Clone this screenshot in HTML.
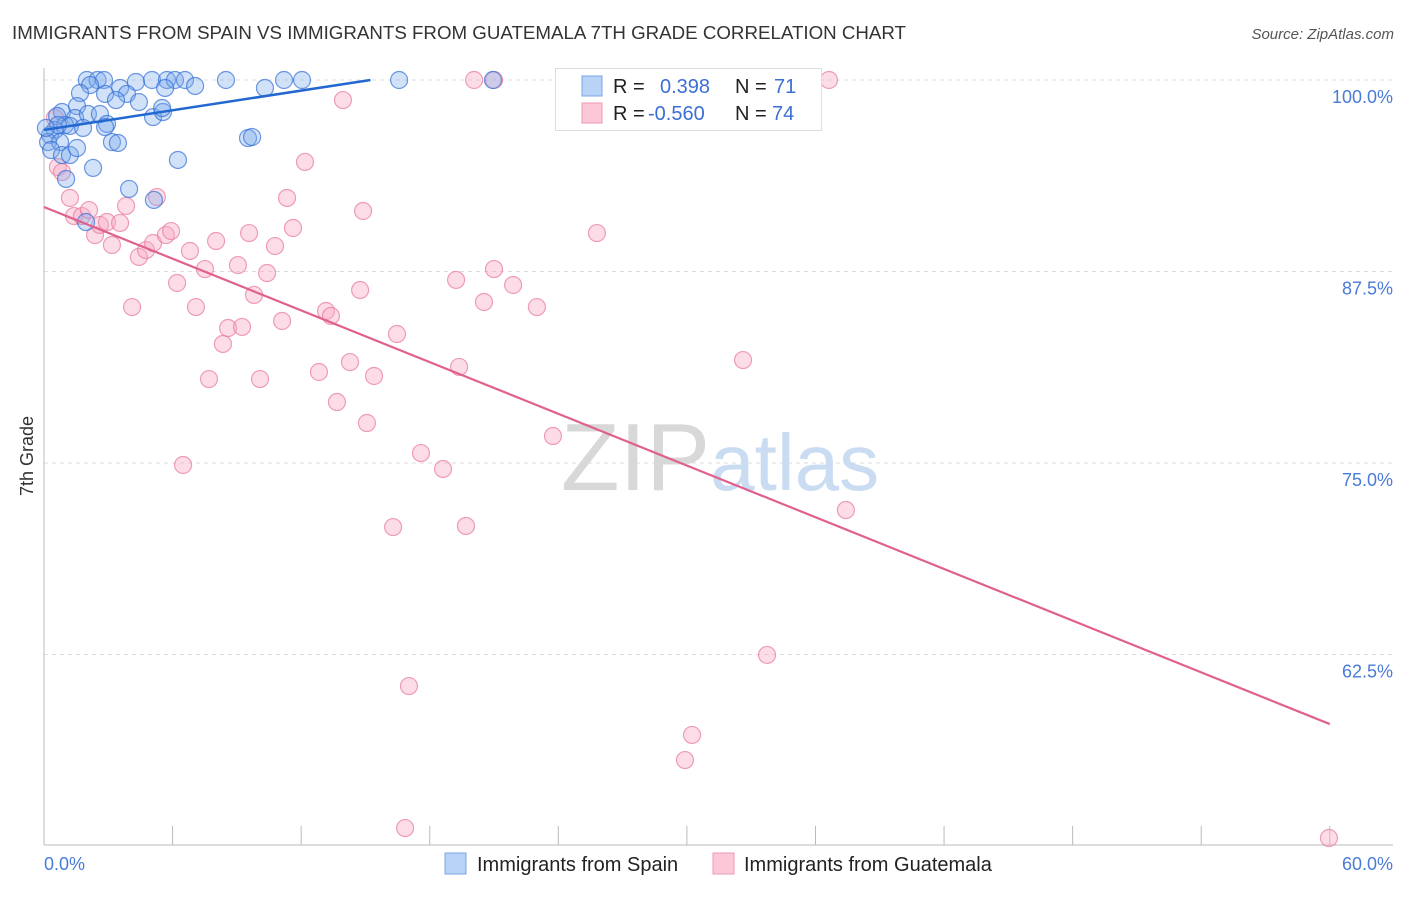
<!DOCTYPE html>
<html><head><meta charset="utf-8"><style>
body{margin:0;background:#fff;font-family:"Liberation Sans",sans-serif;}
svg text{font-family:"Liberation Sans",sans-serif;}
</style></head><body>
<svg id="chart" width="1406" height="892">
<text x="12" y="39" font-size="18" fill="#333" textLength="894" lengthAdjust="spacingAndGlyphs">IMMIGRANTS FROM SPAIN VS IMMIGRANTS FROM GUATEMALA 7TH GRADE CORRELATION CHART</text>
<text x="1394" y="39" font-size="15" fill="#555" font-style="italic" text-anchor="end">Source: ZipAtlas.com</text>
<text transform="translate(33,456) rotate(-90)" font-size="18" fill="#333" text-anchor="middle">7th Grade</text>
<g id="grid"></g>
<text x="720" y="490" font-size="96" fill="#ddd" text-anchor="middle" font-family="Liberation Serif"><tspan fill="#d8d8d8">ZIP</tspan><tspan fill="#c9dcf2" font-family="Liberation Sans" font-size="80">atlas</tspan></text>
<g id="pts"></g>
<g id="lines"></g>
<g>
<rect x="555.5" y="68.5" width="266" height="62" fill="#fff" stroke="#ddd"/>
<rect x="582" y="76" width="20" height="20" fill="#b8d3f5" stroke="#7aa6e6"/>
<rect x="582" y="103" width="20" height="20" fill="#fcc8d8" stroke="#ee9ab5"/>
<text x="613" y="93" font-size="20" fill="#222">R = <tspan x="660" fill="#3b6fd4">0.398</tspan><tspan x="735" fill="#222">N =</tspan><tspan x="774" fill="#3b6fd4">71</tspan></text>
<text x="613" y="120" font-size="20" fill="#222">R = <tspan x="648" fill="#3b6fd4">-0.560</tspan><tspan x="735" fill="#222">N =</tspan><tspan x="772" fill="#3b6fd4">74</tspan></text>
</g>
<text x="44" y="870" font-size="18" fill="#4a7bd8">0.0%</text>
<text x="1393" y="870" font-size="18" fill="#4a7bd8" text-anchor="end">60.0%</text>
<rect x="445" y="853" width="21" height="21" fill="#b8d3f5" stroke="#7aa6e6"/>
<text x="477" y="871" font-size="20" fill="#222">Immigrants from Spain</text>
<rect x="713" y="853" width="21" height="21" fill="#fcc8d8" stroke="#ee9ab5"/>
<text x="744" y="871" font-size="20" fill="#222">Immigrants from Guatemala</text>
</svg>
<script>
const yTicks=[100,87.5,75,62.5];
const yTickLabels=["100.0%","87.5%","75.0%","62.5%"];
const xTicks=[0,6,12,18,24,30,36,42,48,54,60];
const spainX=[2.0,2.5,2.8,5.04,5.74,6.11,6.58,8.49,11.2,12.04,16.57,20.95,3.55,4.29,5.65,7.05,10.31,2.15,1.68,2.85,3.87,3.36,4.43,0.84,1.54,1.45,2.05,2.61,5.09,5.55,5.51,0.61,0.98,1.21,1.82,2.94,2.85,0.51,0.28,0.19,0.75,3.17,3.45,9.52,9.71,0.33,0.84,1.21,1.54,6.25,2.29,1.03,3.97,5.13,1.96,0.65,0.09];
const spainY=[100,100,100,100,100,100,100,100,100,100,100,100,99.48,99.87,99.48,99.61,99.48,99.67,99.15,99.09,99.09,98.69,98.56,97.91,98.30,97.52,97.78,97.78,97.58,97.91,98.17,97.65,97.06,97.0,96.87,97.13,96.93,96.74,96.41,95.95,95.95,95.95,95.89,96.21,96.28,95.43,95.10,95.10,95.56,94.78,94.26,93.54,92.89,92.17,90.73,97.06,96.87];
const guatX=[20.07,21.0,36.63,13.95,12.18,0.51,0.65,0.84,1.21,1.40,1.77,2.10,2.38,2.61,2.94,3.17,3.55,3.83,4.11,4.43,4.76,5.09,5.27,5.69,5.93,6.21,6.81,7.09,7.51,7.70,8.03,8.35,8.59,9.05,9.24,9.57,9.80,10.08,10.41,10.78,11.11,11.34,11.62,12.83,13.16,13.39,13.67,14.28,14.75,14.89,15.07,15.40,16.47,16.29,17.03,17.59,18.62,19.23,19.37,19.69,20.53,21.0,21.89,23.0,23.75,25.8,32.62,37.42,33.74,30.24,29.91,16.85,59.96,6.49];
const guatY=[100,100,100,98.69,94.65,97.52,94.32,93.99,92.30,91.12,91.12,91.51,89.88,90.54,90.73,89.23,90.67,91.78,85.18,88.45,88.90,89.36,92.36,89.88,90.14,86.75,88.84,85.18,87.66,80.48,89.49,82.77,83.81,87.92,83.88,90.01,85.97,80.48,87.40,89.16,84.27,92.30,90.34,80.94,84.92,84.60,78.98,81.59,86.29,91.45,77.61,80.68,83.42,70.82,60.44,75.65,74.61,86.95,81.27,70.89,85.51,87.66,86.62,85.18,76.76,90.01,81.72,71.93,62.47,57.25,55.61,51.17,50.52,74.87];
const spainTrend=[96.74,0.214];
const guatTrend=[91.71,-0.5625];
const NS="http://www.w3.org/2000/svg";
function X(v){return 44+v*21.43;}
function Y(v){return 80+(100-v)*15.32;}
function mk(tag,attrs,parent){const e=document.createElementNS(NS,tag);for(const k in attrs)e.setAttribute(k,attrs[k]);parent.appendChild(e);return e;}
const grid=document.getElementById('grid');
yTicks.forEach((t,i)=>{
 const l=mk('line',{x1:44,x2:1393,y1:Y(t),y2:Y(t),stroke:'#ddd','stroke-dasharray':'4,4'},grid);
 
 
 const tx=mk('text',{x:1393,y:Y(t)+23,'font-size':18,fill:'#4a7bd8','text-anchor':'end'},grid);
 tx.textContent=yTickLabels[i];
 
 
});
const ax=mk('line',{x1:44,x2:1393,y1:845,y2:845,stroke:'#bbb'},grid);


const ay=mk('line',{x1:44,x2:44,y1:68,y2:845,stroke:'#bbb'},grid);


xTicks.forEach(t=>{
 const l=mk('line',{x1:X(t),x2:X(t),y1:826,y2:845,stroke:'#bbb'},grid);
 
 
});
const pts=document.getElementById('pts');
guatX.forEach((v,i)=>{
 const c=mk('circle',{cx:X(v),cy:Y(guatY[i]),r:8.5,fill:'rgba(248,170,195,0.4)',stroke:'rgba(232,120,155,0.7)','stroke-width':1.2},pts);
 
 
});
spainX.forEach((v,i)=>{
 const c=mk('circle',{cx:X(v),cy:Y(spainY[i]),r:8.5,fill:'rgba(120,170,235,0.35)',stroke:'rgba(50,110,215,0.7)','stroke-width':1.2},pts);
 
 
});
const lines=document.getElementById('lines');
const sEnd=(100-spainTrend[0])/spainTrend[1];
const l1=mk('line',{x1:X(0),y1:Y(spainTrend[0]),x2:X(sEnd),y2:Y(100),stroke:'#2268d0','stroke-width':2.5},lines);


const l2=mk('line',{x1:X(0),y1:Y(guatTrend[0]),x2:X(60),y2:Y(guatTrend[0]+guatTrend[1]*60),stroke:'#e0608e','stroke-width':2.2},lines);


</script>
</body></html>
